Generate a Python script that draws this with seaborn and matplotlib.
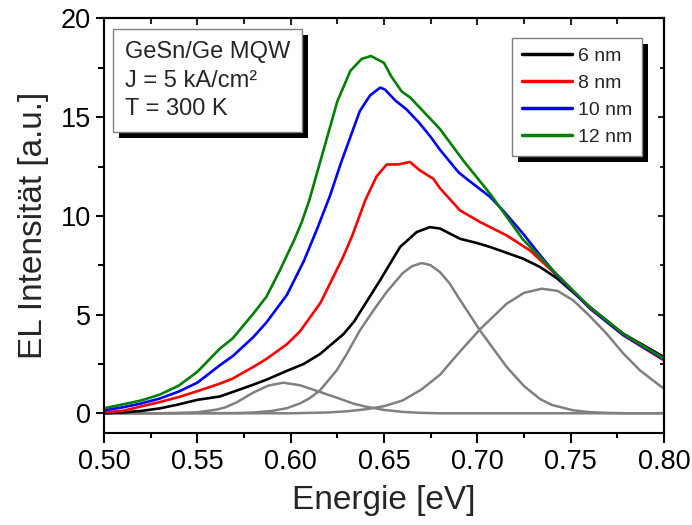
import numpy as np
import pandas as pd
import matplotlib
matplotlib.use('Agg')
import matplotlib.pyplot as plt
import matplotlib.patheffects as pe
from matplotlib.ticker import MultipleLocator, FormatStrFormatter
import seaborn as sns

# EL spectra
e_6nm = [0.50, 0.51, 0.52, 0.53, 0.54, 0.55, 0.562, 0.569, 0.58, 0.587, 0.598, 0.607, 0.6157, 0.6282,
         0.634, 0.639, 0.648, 0.6586, 0.6675, 0.6746, 0.68, 0.6907, 0.70, 0.707, 0.7246, 0.7336,
         0.7425, 0.7604, 0.7782, 0.80]
i_6nm = [0.0, 0.04, 0.12, 0.25, 0.45, 0.68, 0.85, 1.08, 1.45, 1.7, 2.15, 2.5, 3.0, 4.0,
         4.65, 5.4, 6.75, 8.42, 9.18, 9.43, 9.36, 8.84, 8.62, 8.42, 7.83, 7.41,
         6.85, 5.38, 4.03, 2.85]

e_8nm = [0.50, 0.51, 0.52, 0.53, 0.54, 0.55, 0.562, 0.569, 0.58, 0.587, 0.598, 0.605, 0.616, 0.628,
         0.633, 0.640, 0.646, 0.6514, 0.6577, 0.6639, 0.6693, 0.6764, 0.68, 0.6907, 0.7014, 0.7157,
         0.7282, 0.7425, 0.7604, 0.7782, 0.80]
i_8nm = [0.05, 0.12, 0.35, 0.57, 0.82, 1.12, 1.5, 1.76, 2.35, 2.75, 3.5, 4.15, 5.6, 7.9,
         9.0, 10.8, 12.0, 12.6, 12.61, 12.73, 12.3, 11.88, 11.4, 10.28, 9.69, 9.01,
         8.25, 7.0, 5.3, 3.95, 2.68]

e_10nm = [0.50, 0.51, 0.52, 0.53, 0.54, 0.55, 0.562, 0.569, 0.58, 0.587, 0.598, 0.607, 0.614, 0.621,
          0.627, 0.632, 0.637, 0.6425, 0.648, 0.6505, 0.656, 0.662, 0.669, 0.675, 0.68, 0.69,
          0.696, 0.707, 0.714, 0.7245, 0.732, 0.7425, 0.76, 0.778, 0.80]
i_10nm = [0.15, 0.3, 0.5, 0.75, 1.1, 1.55, 2.43, 2.9, 3.86, 4.6, 6.0, 7.7, 9.3, 11.0,
          12.7, 14.0, 15.3, 16.1, 16.5, 16.4, 15.85, 15.4, 14.7, 14.0, 13.35, 12.2,
          11.75, 10.95, 10.25, 9.1, 8.2, 7.0, 5.35, 3.98, 2.72]

e_12nm = [0.50, 0.51, 0.52, 0.53, 0.54, 0.55, 0.562, 0.569, 0.58, 0.587, 0.594, 0.602, 0.606, 0.610,
          0.6175, 0.625, 0.632, 0.638, 0.643, 0.650, 0.654, 0.6595, 0.664, 0.669, 0.675, 0.680,
          0.6925, 0.707, 0.7245, 0.7425, 0.760, 0.778, 0.800]
i_12nm = [0.25, 0.45, 0.65, 0.95, 1.4, 2.1, 3.27, 3.8, 5.05, 5.9, 7.2, 8.8, 9.7, 10.8,
          13.3, 15.8, 17.35, 17.95, 18.1, 17.75, 17.05, 16.3, 16.0, 15.5, 14.9, 14.4,
          12.8, 11.1, 8.8, 7.05, 5.4, 4.03, 2.77]

# fitted components of the 6 nm spectrum (grey)
e_fit1 = [0.50, 0.53, 0.54, 0.55, 0.56, 0.565, 0.571, 0.58, 0.588, 0.596, 0.605, 0.6157, 0.625,
          0.6336, 0.64, 0.65, 0.66, 0.67, 0.68, 0.80]
i_fit1 = [0.0, 0.0, 0.02, 0.05, 0.18, 0.3, 0.55, 1.05, 1.4, 1.55, 1.42, 1.08, 0.78,
          0.49, 0.34, 0.17, 0.07, 0.02, 0.0, 0.0]

e_fit2 = [0.50, 0.57, 0.58, 0.59, 0.598, 0.605, 0.61, 0.6157, 0.6247, 0.63, 0.6371, 0.645, 0.6514,
          0.66, 0.665, 0.6702, 0.675, 0.68, 0.685, 0.69, 0.7014, 0.7157, 0.725, 0.7336, 0.74,
          0.7514, 0.76, 0.77, 0.78, 0.80]
i_fit2 = [0.0, 0.01, 0.04, 0.12, 0.26, 0.5, 0.75, 1.16, 2.18, 3.0, 4.2, 5.3, 6.14,
          7.1, 7.45, 7.61, 7.5, 7.15, 6.6, 5.85, 4.2, 2.35, 1.38, 0.72, 0.42,
          0.15, 0.06, 0.02, 0.0, 0.0]

e_fit3 = [0.50, 0.60, 0.61, 0.62, 0.63, 0.64, 0.65, 0.66, 0.67, 0.68, 0.69, 0.7014, 0.7157,
          0.725, 0.7345, 0.743, 0.7514, 0.76, 0.7693, 0.778, 0.7871, 0.795, 0.80]
i_fit3 = [0.0, 0.0, 0.02, 0.04, 0.1, 0.2, 0.36, 0.65, 1.2, 1.95, 3.05, 4.25, 5.55,
          6.1, 6.31, 6.2, 5.72, 4.95, 4.03, 3.05, 2.18, 1.6, 1.25]

labels = ['6 nm', '8 nm', '10 nm', '12 nm']
colors = ['black', '#ff0000', '#0000ff', '#008000']

spectra = pd.concat([
    pd.DataFrame({'E': e, 'I': i, 'well': lab})
    for e, i, lab in zip([e_6nm, e_8nm, e_10nm, e_12nm], [i_6nm, i_8nm, i_10nm, i_12nm], labels)
])
fits = pd.concat([
    pd.DataFrame({'E': e, 'I': i, 'peak': k})
    for k, (e, i) in enumerate([(e_fit1, i_fit1), (e_fit2, i_fit2), (e_fit3, i_fit3)])
])

sns.set_style('ticks')
plt.rcParams['font.family'] = ['Liberation Sans', 'DejaVu Sans']

fig = plt.figure(figsize=(6.92, 5.25), dpi=100)
ax = fig.add_axes([0.1503, 0.1752, 0.8092, 0.7896])

sns.lineplot(data=fits, x='E', y='I', units='peak', estimator=None, color='#808080',
             lw=1.8, ax=ax, legend=False, sort=True)
sns.lineplot(data=spectra, x='E', y='I', hue='well', hue_order=labels,
             palette=dict(zip(labels, colors)), estimator=None, lw=1.9, ax=ax, sort=True)

ax.set_xlim(0.50, 0.80)
ax.set_ylim(-1, 20)
ax.xaxis.set_major_locator(MultipleLocator(0.05))
ax.xaxis.set_minor_locator(MultipleLocator(0.025))
ax.yaxis.set_major_locator(MultipleLocator(5))
ax.yaxis.set_minor_locator(MultipleLocator(2.5))
ax.xaxis.set_major_formatter(FormatStrFormatter('%.2f'))
ax.set_xlabel('Energie [eV]', fontsize=24, labelpad=7)
ax.set_ylabel('EL Intensität [a.u.]', fontsize=24, labelpad=8)

for s in ax.spines.values():
    s.set_linewidth(1.5)
    s.set_color('black')
ax.tick_params(which='both', direction='out', width=1.5, colors='black', labelsize=19.5)
ax.tick_params(axis='x', which='major', length=7, pad=4.5)
ax.tick_params(axis='x', which='minor', length=3.5)
ax.tick_params(axis='y', which='major', length=5.5, pad=4)
ax.tick_params(axis='y', which='minor', length=4.5)

# mirrored ticks pointing inwards
top = ax.secondary_xaxis('top')
top.xaxis.set_major_locator(MultipleLocator(0.05))
top.xaxis.set_minor_locator(MultipleLocator(0.025))
top.tick_params(which='both', direction='in', width=1.5, labeltop=False)
top.tick_params(which='major', length=5)
top.tick_params(which='minor', length=4)
right = ax.secondary_yaxis('right')
right.yaxis.set_major_locator(MultipleLocator(5))
right.yaxis.set_minor_locator(MultipleLocator(2.5))
right.tick_params(which='both', direction='in', width=1.5, labelright=False)
right.tick_params(which='major', length=4)
right.tick_params(which='minor', length=3)
for sec in (top, right):
    for s in sec.spines.values():
        s.set_linewidth(1.5)

shadow = [pe.SimplePatchShadow(offset=(4.5, -4.5), shadow_rgbFace='black', alpha=1), pe.Normal()]

txt = ax.text(0.0375, 0.9457, 'GeSn/Ge MQW\nJ = 5 kA/cm²\nT = 300 K', transform=ax.transAxes,
              fontsize=17, va='top', ha='left', linespacing=1.39,
              bbox=dict(boxstyle='square,pad=0.5', fc='white', ec='#7f7f7f', lw=1))
txt.get_bbox_patch().set_path_effects(shadow)

leg = ax.legend(loc='upper right', bbox_to_anchor=(0.9607, 0.953), borderaxespad=0, fontsize=14,
                frameon=True, fancybox=False, framealpha=1, edgecolor='#7f7f7f',
                handlelength=2.6, handletextpad=0.3, labelspacing=0.48, borderpad=0.5, title=None)
leg.get_frame().set_linewidth(1)
leg.get_frame().set_path_effects(shadow)
for h in leg.get_lines():
    h.set_linewidth(2.5)

fig.savefig('out.png', dpi=100)
